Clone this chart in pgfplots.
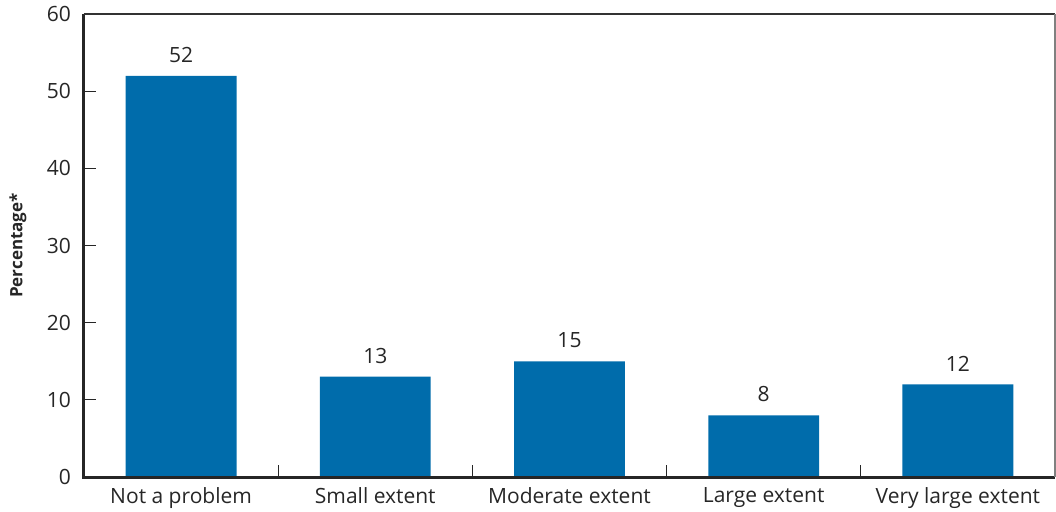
\documentclass[border=0pt]{standalone}
\usepackage{fontspec}
\setmainfont{Open Sans}
\usepackage{pgfplots}
\pgfplotsset{compat=1.18}
\definecolor{barblue}{RGB}{0,108,171}
\begin{document}
\begin{tikzpicture}
\begin{axis}[
  width=485.5pt, height=231.5pt, scale only axis,
  xmin=-0.5, xmax=4.5, ymin=0, ymax=60,
  ytick={0,10,...,60},
  xtick={0.5,1.5,2.5,3.5},
  xticklabels={},
  extra x ticks={0,1,2,3,4},
  extra x tick labels={Not a problem, Small extent, Moderate extent, Large extent, Very large extent},
  extra x tick style={major tick length=0pt, tick label style={yshift=-1.5pt}},
  xtick pos=bottom, ytick pos=left,
  tick align=inside,
  major tick length=6pt,
  tick style={color=black!85, line width=0.6pt},
  axis line style={draw=none},
  /pgf/number format/assume math mode=true,
  tick label style={font=\fontsize{10.5}{12}\selectfont, text=black!85},
  yticklabel style={xshift=-3pt},
  ylabel={\bfseries Percentage*},
  ylabel style={font=\fontsize{8.5}{10}\selectfont, text=black!85, at={(axis description cs:-0.068,0.5)}, anchor=center},
  clip=false,
  nodes near coords,
  nodes near coords style={font=\fontsize{10.5}{12}\selectfont, text=black!85, anchor=south, inner sep=0pt, yshift=6.5pt},
]
\addplot[ybar, bar width=0.571, fill=barblue, draw=none] coordinates {(0,52) (1,13) (2,15) (3,8) (4,12)};
\draw[line width=1.5pt, black!85] (rel axis cs:0,1) -- (rel axis cs:0,0) -- (rel axis cs:1,0);
\draw[line width=0.6pt, black!80] (rel axis cs:0,1) -- (rel axis cs:1,1);
\draw[line width=0.6pt, black!50] (rel axis cs:1,1) -- (rel axis cs:1,0);
\end{axis}
\pgfresetboundingbox
\useasboundingbox (-42pt,-17pt) rectangle (486pt,238.5pt);
\end{tikzpicture}
\end{document}
